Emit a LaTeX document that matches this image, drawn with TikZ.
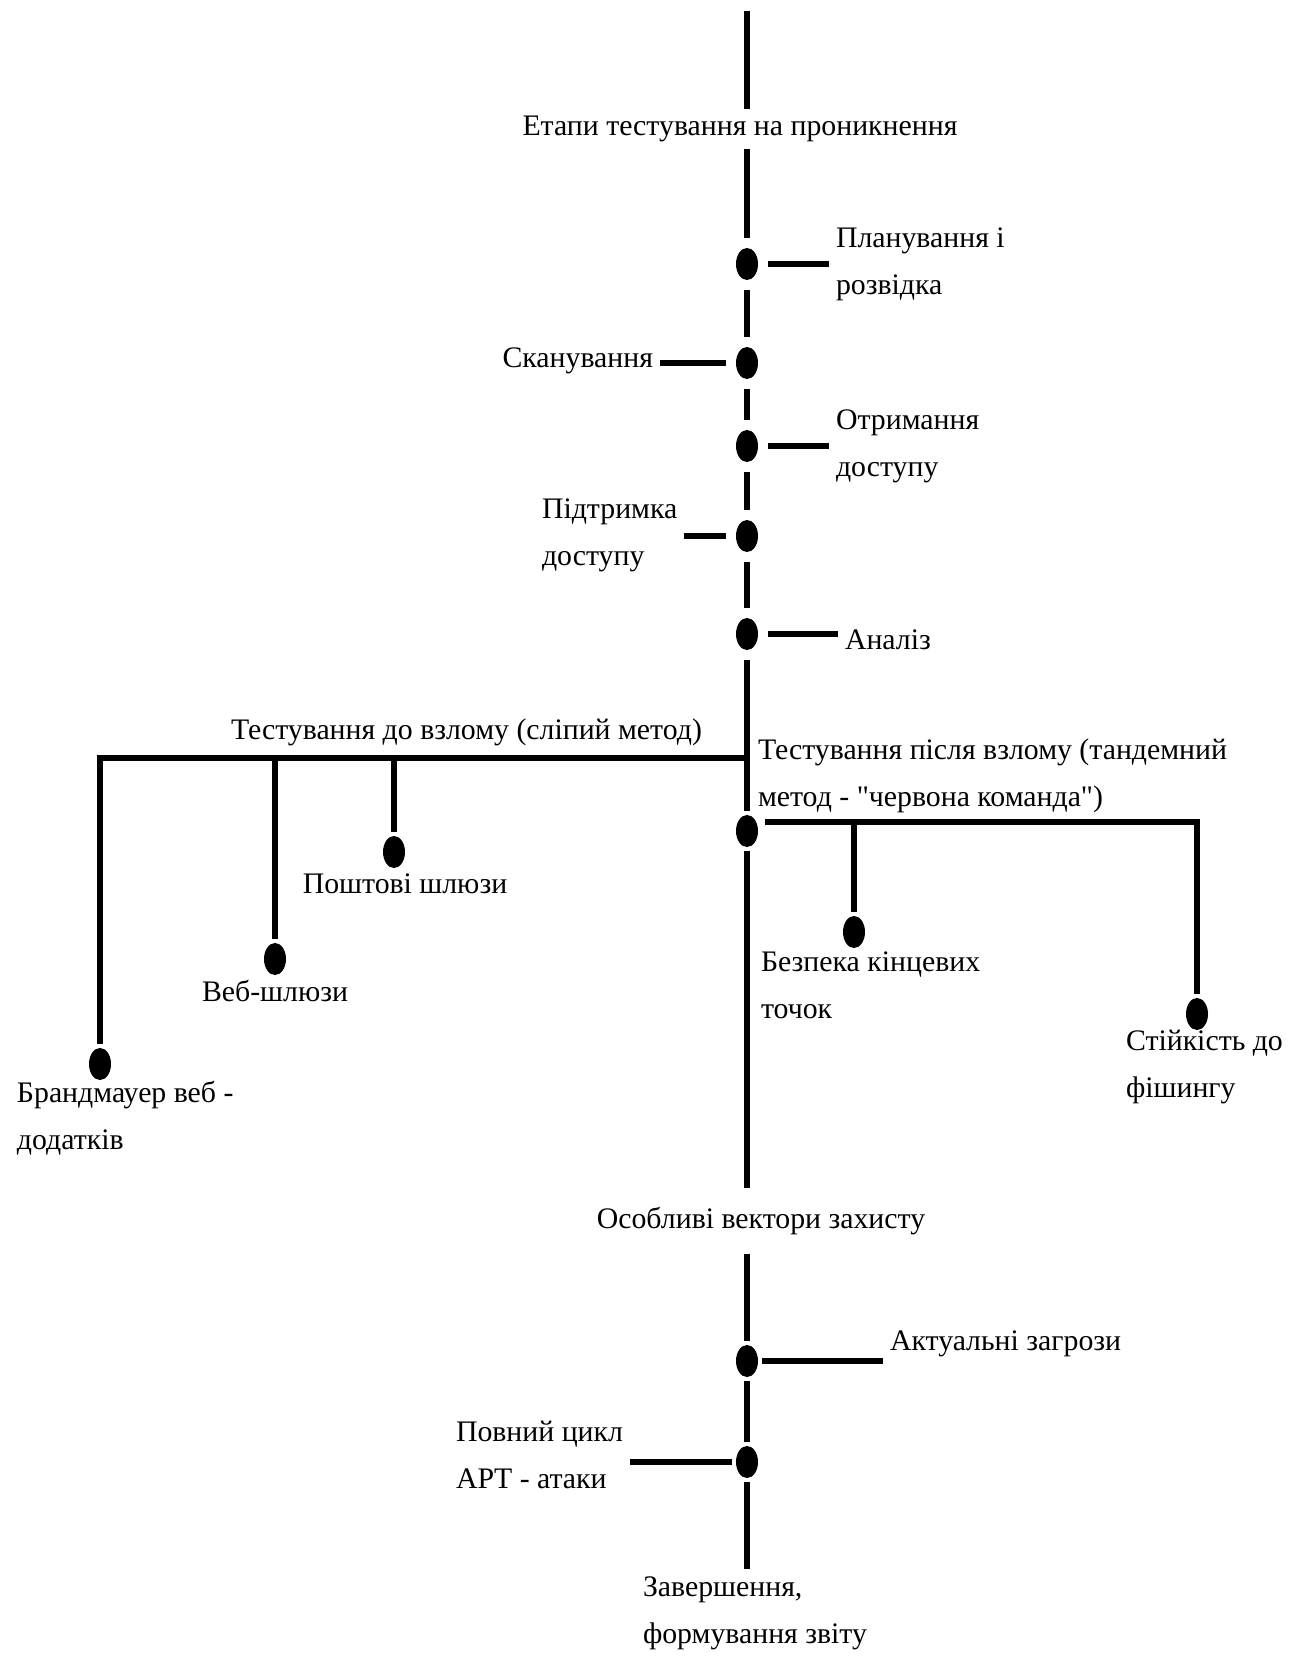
\documentclass[tikz,border=0pt]{standalone}
\usepackage{fontspec}
\newfontfamily\diagfont{Liberation Serif}
\usetikzlibrary{shapes.geometric, positioning}
\definecolor{mainBlack}{gray}{0}

\begin{document}
\begin{tikzpicture}[x=0.5pt, y=-0.5pt, line width=3pt, mainBlack,
    dot/.style={ellipse, fill=mainBlack, inner sep=0pt, minimum width=11pt, minimum height=16pt, outer sep=2pt},
    gapDot/.style={dot, outer sep=5pt},
    lbl/.style={inner sep=2pt, align=left, font=\diagfont\fontsize{14.9}{23.5}\selectfont}]
    \useasboundingbox (0,0) rectangle (1291,1657);

    % Main axis
    \coordinate (top) at (747,11);
    \node[lbl] (stages) at (740,129) {Етапи тестування на проникнення};
    \node[gapDot] (d1) at (747,264) {};
    \node[gapDot] (d2) at (747,363) {};
    \node[gapDot] (d3) at (747,446) {};
    \node[gapDot] (d4) at (747,536) {};
    \node[gapDot] (d5) at (747,634) {};
    \coordinate (j1) at (747,758);
    \node[dot] (d6) at (747,831) {};
    \node[lbl, inner ysep=8pt] (vectors) at (761,1221) {Особливі вектори захисту};
    \node[dot] (d7) at (747,1361) {};
    \node[dot] (d8) at (747,1462) {};
    \node[lbl, anchor=west] (finish) at (636,1613) {Завершення,\\формування звіту};

    \draw (top) -- (top |- stages.north);
    \draw (top |- stages.south) -- (d1);
    \draw (d1) -- (d2);
    \draw (d2) -- (d3);
    \draw (d3) -- (d4);
    \draw (d4) -- (d5);
    \draw (d5) -- (j1) -- (d6);
    \draw (d6) -- (d6 |- vectors.north);
    \draw (d6 |- vectors.south) -- (d7);
    \draw (d7) -- (d8);
    \draw (d8) -- (d8 |- finish.north);

    % Stages
    \node[lbl, anchor=west] (plan) at (829,264) {Планування і\\розвідка};
    \node[lbl, anchor=east] (scan) at (660,361) {Сканування};
    \node[lbl, anchor=west] (gain) at (829,446) {Отримання\\доступу};
    \node[lbl, anchor=west] (keep) at (535,535) {Підтримка\\доступу};
    \node[lbl, anchor=west] (anal) at (838,640) {Аналіз};
    \draw (d1) -- (plan.west |- d1);
    \draw (d2) -- (scan.east |- d2);
    \draw (d3) -- (gain.west |- d3);
    \draw (d4) -- (keep.east |- d4);
    \draw (d5) -- (anal.west |- d5);

    % Before the breach
    \node[lbl, anchor=west] (blind) at (224,732) {Тестування до взлому (сліпий метод)};
    \node[dot] (b1) at (100,1064) {};
    \node[dot] (b2) at (275,959) {};
    \node[dot] (b3) at (394,852) {};
    \node[lbl, anchor=west] (waf) at (10,1118) {Брандмауер веб -\\додатків};
    \node[lbl] (webgw) at (275,991) {Веб-шлюзи};
    \node[lbl] (mailgw) at (405,884) {Поштові шлюзи};
    \draw (j1) -| (b1);
    \draw (b2 |- j1) -- (b2);
    \draw (b3 |- j1) -- (b3);

    % After the breach
    \node[lbl, anchor=west] (after) at (751,776) {Тестування після взлому (тандемний\\метод - "червона команда")};
    \coordinate (r0) at (765,822);
    \node[dot] (b4) at (854,932) {};
    \node[dot] (b5) at (1197,1014) {};
    \node[lbl, anchor=west] (endpt) at (754,985) {Безпека кінцевих\\точок};
    \node[lbl, anchor=west] (phish) at (1119,1067) {Стійкість до\\фішингу};
    \draw (r0) -| (b5);
    \draw (b4 |- r0) -- (b4);

    % Special vectors
    \node[lbl, anchor=west] (threats) at (883,1344) {Актуальні загрози};
    \node[lbl, anchor=west] (apt) at (449,1455) {Повний цикл\\APT - атаки};
    \draw (d7) -- (threats.west |- d7);
    \draw (d8) -- (apt.east |- d8);
\end{tikzpicture}
\end{document}
